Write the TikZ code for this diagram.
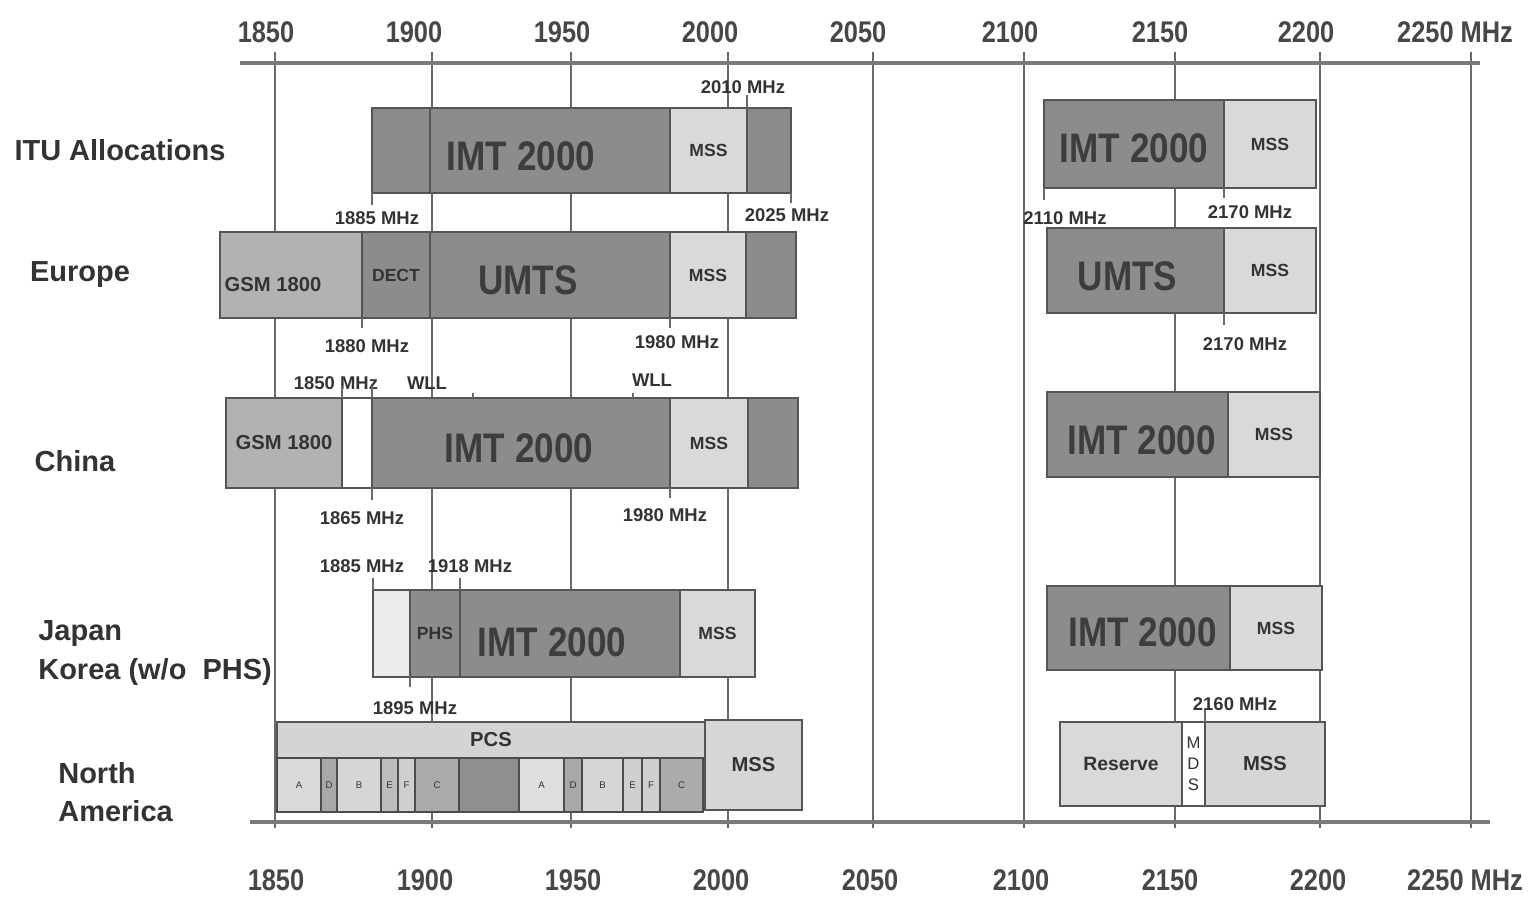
\documentclass[tikz,border=0pt]{standalone}
\usepackage{fontspec}
\setmainfont{Liberation Sans}
\newfontfamily\narrowfont[FakeStretch=0.85]{Liberation Sans}
\usetikzlibrary{calc}

\definecolor{bandDark}{HTML}{8C8C8C}
\definecolor{bandMid}{HTML}{B2B2B2}
\definecolor{bandLight}{HTML}{D9D9D9}
\definecolor{bandPale}{HTML}{EBEBEB}
\definecolor{bandLine}{HTML}{555555}
\definecolor{gridLine}{HTML}{6A6A6A}
\definecolor{axisLine}{HTML}{7A7A7A}
\definecolor{ink}{HTML}{333333}

\tikzset{
  band/.style={draw=bandLine, line width=1.3pt, inner sep=0pt, outer sep=0pt,
               anchor=north west, text=ink, font=\bfseries\fontsize{10}{12}\selectfont},
  dark/.style={fill=bandDark},
  medium/.style={fill=bandMid},
  light/.style={fill=bandLight},
  subband/.style={band, draw=black!70, line width=1.6pt, font=\fontsize{5.5}{6}\selectfont},
  bigtext/.style={font=\narrowfont\bfseries\fontsize{23.5}{24}\selectfont, text=ink!95, inner sep=0pt},
  midtext/.style={font=\bfseries\fontsize{11.5}{12}\selectfont, text=ink, inner sep=0pt},
  mhz/.style={font=\bfseries\fontsize{10.5}{12}\selectfont, text=ink, inner sep=0pt},
  rowlabel/.style={font=\bfseries\fontsize{16.5}{22}\selectfont, text=ink, inner sep=0pt},
  axislabel/.style={font=\narrowfont\bfseries\fontsize{17}{18}\selectfont, text=ink!90, inner sep=0pt},
  gridline/.style={draw=gridLine, line width=0.9pt},
  axisline/.style={draw=axisLine, line width=2.6pt},
  tick/.style={draw=gridLine, line width=0.9pt},
}

% one allocation block: name, x1, x2, y1, y2, style, text
\newcommand{\bandbox}[7]{%
  \node[band, #6, minimum width={(#3-#2)*0.02cm}, minimum height={(#5-#4)*0.02cm}]
    (#1) at (#2,#4) {#7};}

\begin{document}
\begin{tikzpicture}[x=0.02cm, y=-0.02cm]
\useasboundingbox (0,0) rectangle (1530,898);

% frequency grid and axes
\coordinate (axTl) at (240,63);  \coordinate (axTr) at (1480,63);
\coordinate (axBl) at (250,822); \coordinate (axBr) at (1490,822);
\foreach \lab/\x/\t/\b [count=\i] in {1850/275/266/276, 1900/432/414/425,
    1950/571/562/573, 2000/728/710/721, 2050/873/858/870, 2100/1024/1010/1021,
    2150/1175/1160/1170, 2200/1320/1306/1318, 2250 MHz/1471/1455/1465}{
  \coordinate (g\i a) at (\x,52);
  \coordinate (g\i b) at (\x,828);
  \draw[gridline] (g\i a) -- (g\i b);
  \node[axislabel] (top\i) at (\t,32) {\lab};
  \node[axislabel] (bot\i) at (\b,880) {\lab};
}
\draw[axisline] (axTl) -- (axTr);
\draw[axisline] (axBl) -- (axBr);

% row titles
\node[rowlabel] (r-itu) at (120,150) {ITU Allocations};
\node[rowlabel] (r-eu) at (80,275) {Europe};
\node[rowlabel] (r-cn) at (75,461) {China};
\node[rowlabel, anchor=west, align=left] (r-jp) at (38,653) {Japan\\Korea (w/o~ PHS)};
\node[rowlabel, anchor=west, align=left] (r-na) at (58,792) {North\\America};

% ITU
\bandbox{itu-imt}{372}{670}{108}{193}{dark}{}
\bandbox{itu-mss}{670}{747}{108}{193}{light}{MSS}
\bandbox{itu-ext}{747}{791}{108}{193}{dark}{}
\draw[band] ($(itu-imt.north west)+(58,0)$) -- ($(itu-imt.south west)+(58,0)$);
\node[bigtext] (t-itu-imt) at ($(itu-imt.center)+(0,6)$) {IMT 2000};
\bandbox{itu-imt2}{1044}{1224}{100}{188}{dark}{}
\bandbox{itu-mss2}{1224}{1316}{100}{188}{light}{MSS}
\node[bigtext] (t-itu-imt2) at ($(itu-imt2.center)+(0,4)$) {IMT 2000};
\node[mhz] (l-2010) at (743,87) {2010 MHz};
\node[mhz] (l-1885a) at (377,218) {1885 MHz};
\node[mhz] (l-2025) at (787,215) {2025 MHz};
\node[mhz] (l-2110) at (1065,218) {2110 MHz};
\node[mhz] (l-2170a) at (1250,212) {2170 MHz};
\draw[tick] (itu-mss.north east) -- ++(0,-13);
\draw[tick] (itu-imt.south west) -- ++(0,12);
\draw[tick] (itu-ext.south east) -- ++(0,10);
\draw[tick] (itu-imt2.south west) -- ++(0,12);
\draw[tick] (itu-mss2.south west) -- ++(0,10);

% Europe
\bandbox{eu-gsm}{220}{362}{232}{318}{medium}{}
\bandbox{eu-dect}{362}{430}{232}{318}{dark}{DECT}
\bandbox{eu-umts}{430}{670}{232}{318}{dark}{}
\bandbox{eu-mss}{670}{746}{232}{318}{light}{MSS}
\bandbox{eu-ext}{746}{796}{232}{318}{dark}{}
\bandbox{eu-umts2}{1047}{1224}{228}{313}{dark}{}
\bandbox{eu-mss2}{1224}{1316}{228}{313}{light}{MSS}
\node[midtext] (t-eu-gsm) at (273,285) {GSM 1800};
\node[bigtext] (t-eu-umts) at ($(eu-umts.center)+(-22,5)$) {UMTS};
\node[bigtext] (t-eu-umts2) at ($(eu-umts2.center)+(-8,6)$) {UMTS};
\node[mhz] (l-1880) at (367,346) {1880 MHz};
\node[mhz] (l-1980a) at (677,342) {1980 MHz};
\node[mhz] (l-2170b) at (1245,344) {2170 MHz};
\draw[tick] (eu-gsm.south east) -- ++(0,10);
\draw[tick] (eu-mss.south west) -- ++(0,10);
\draw[tick] (eu-mss2.south west) -- ++(0,12);

% China
\bandbox{cn-gsm}{226}{342}{398}{488}{medium, midtext}{GSM 1800}
\bandbox{cn-gap}{342}{372}{398}{488}{fill=white}{}
\bandbox{cn-imt}{372}{670}{398}{488}{dark}{}
\bandbox{cn-mss}{670}{748}{398}{488}{light}{MSS}
\bandbox{cn-ext}{748}{798}{398}{488}{dark}{}
\bandbox{cn-imt2}{1047}{1228}{392}{477}{dark}{}
\bandbox{cn-mss2}{1228}{1320}{392}{477}{light}{MSS}
\node[bigtext] (t-cn-imt) at ($(cn-imt.center)+(-2,5)$) {IMT 2000};
\node[bigtext] (t-cn-imt2) at ($(cn-imt2.center)+(4,6)$) {IMT 2000};
\node[mhz] (l-1850) at (336,383) {1850 MHz};
\node[mhz] (l-wll1) at (427,383) {WLL};
\node[mhz] (l-wll2) at (652,380) {WLL};
\node[mhz] (l-1865) at (362,518) {1865 MHz};
\node[mhz] (l-1980b) at (665,515) {1980 MHz};
\draw[tick] (cn-gap.north west) -- ++(0,-12);
\draw[tick] (cn-imt.north west) -- ++(0,-12);
\draw[tick] ($(cn-imt.north west)+(101,0)$) -- ++(0,-5);
\draw[tick] ($(cn-imt.north west)+(261,0)$) -- ++(0,-5);
\draw[tick] (cn-imt.south west) -- ++(0,12);
\draw[tick] (cn-mss.south west) -- ++(0,10);

% Japan / Korea
\bandbox{jp-free}{373}{410}{590}{677}{fill=bandPale}{}
\bandbox{jp-phs}{410}{460}{590}{677}{dark}{PHS}
\bandbox{jp-imt}{460}{680}{590}{677}{dark}{}
\bandbox{jp-mss}{680}{755}{590}{677}{light}{MSS}
\bandbox{jp-imt2}{1047}{1230}{586}{670}{dark}{}
\bandbox{jp-mss2}{1230}{1322}{586}{670}{light}{MSS}
\node[bigtext] (t-jp-imt) at ($(jp-imt.center)+(-18,9)$) {IMT 2000};
\node[bigtext] (t-jp-imt2) at ($(jp-imt2.center)+(4,4)$) {IMT 2000};
\node[mhz] (l-1885b) at (362,566) {1885 MHz};
\node[mhz] (l-1918) at (470,566) {1918 MHz};
\node[mhz] (l-1895) at (415,708) {1895 MHz};
\draw[tick] (jp-free.north west) -- ++(0,-12);
\draw[tick] (jp-imt.north west) -- ++(0,-12);
\draw[tick] (jp-phs.south west) -- ++(0,10);

% North America
\bandbox{na-pcs}{277}{705}{722}{758}{fill=black!17, midtext}{PCS}
\foreach \xa/\xb/\c/\t [count=\i] in {277/321/15/A, 321/337/34/D, 337/381/16/B,
    381/398/26/E, 398/415/19/F, 415/459/33/C, 459/519/44/, 519/564/13/A,
    564/582/34/D, 582/623/16/B, 623/642/19/E, 642/660/19/F, 660/703/33/C}{
  \bandbox{na-s\i}{\xa}{\xb}{758}{812}{subband, fill=black!\c}{\t}
}
\bandbox{na-mss}{705}{802}{720}{810}{fill=black!16, font=\bfseries\fontsize{11.5}{12}\selectfont}{MSS}
\bandbox{na-res}{1060}{1182}{722}{806}{fill=black!15, font=\bfseries\fontsize{11}{12}\selectfont}{Reserve}
\bandbox{na-mds}{1182}{1205}{722}{806}{fill=white, align=center, font=\fontsize{9.5}{12}\selectfont}{M\\D\\S}
\bandbox{na-mss2}{1205}{1325}{722}{806}{fill=black!16, font=\bfseries\fontsize{11.5}{12}\selectfont}{MSS}
\node[mhz] (l-2160) at (1235,704) {2160 MHz};
\draw[tick] (na-mss2.north west) -- ++(0,-12);
\end{tikzpicture}
\end{document}
